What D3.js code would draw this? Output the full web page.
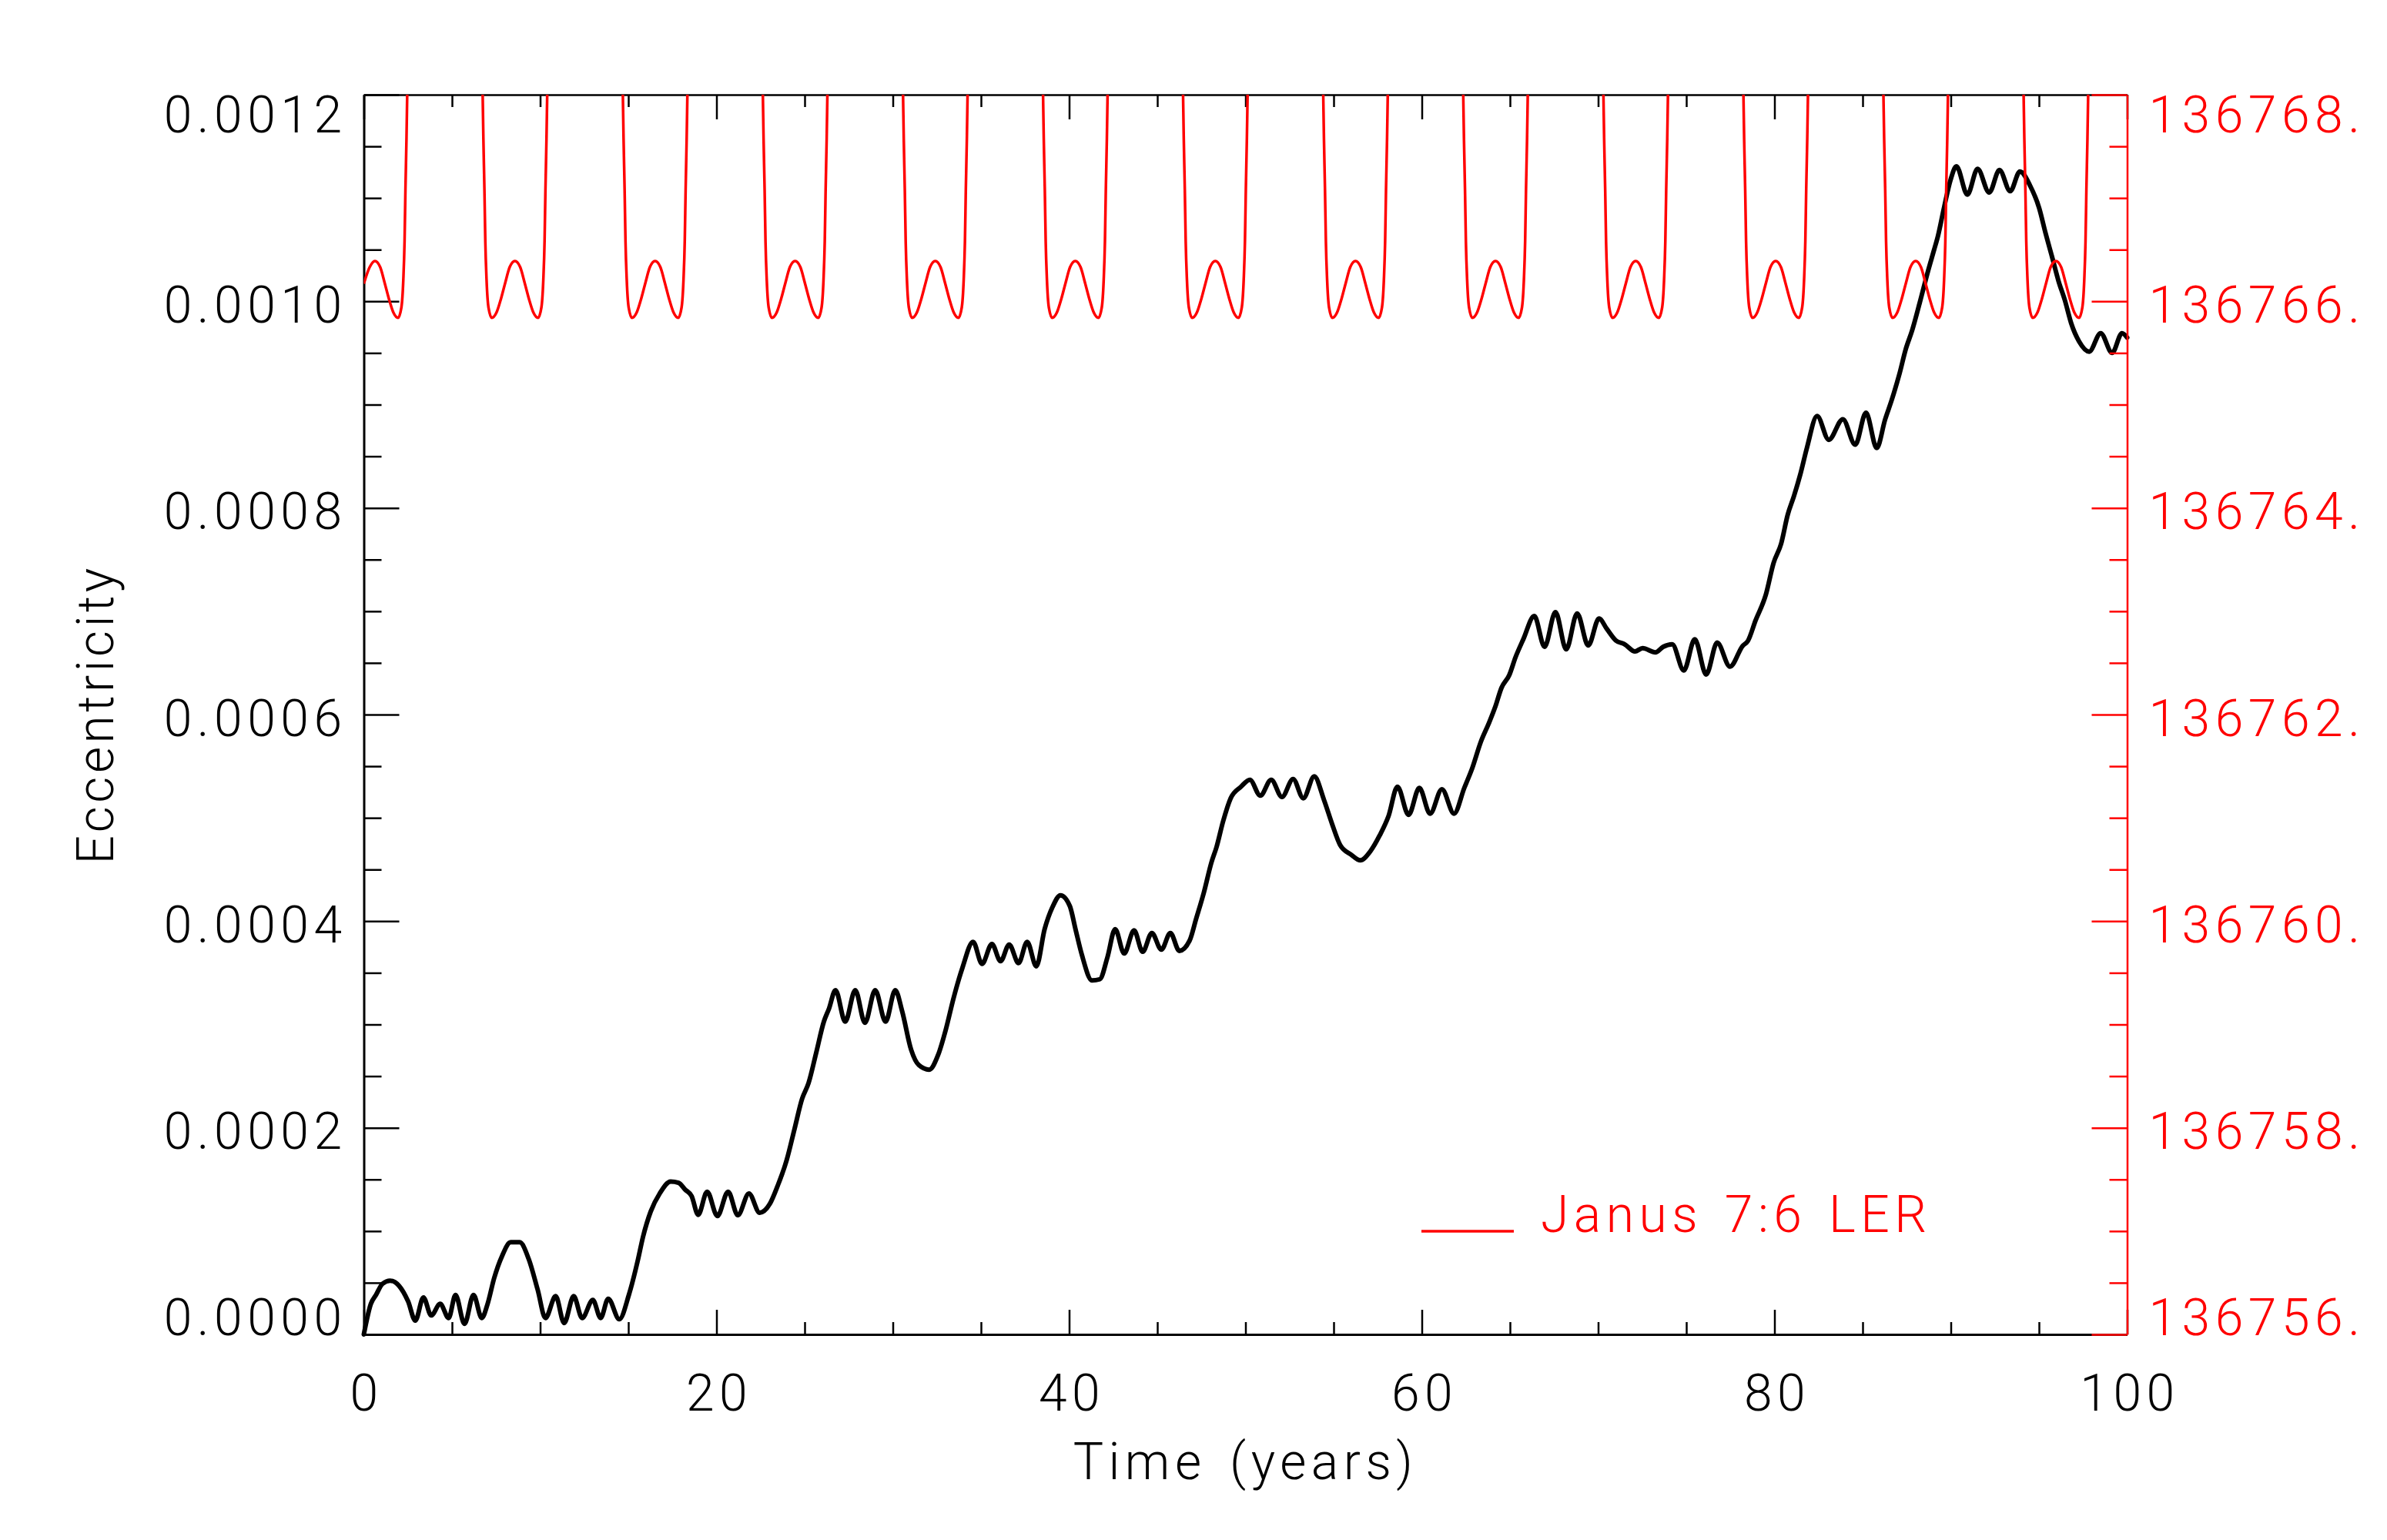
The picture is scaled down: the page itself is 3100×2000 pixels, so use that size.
<!DOCTYPE html>
<html>
<head>
<meta charset="utf-8">
<script src="https://cdn.jsdelivr.net/npm/d3@7"></script>
<style>
  html, body { margin: 0; padding: 0; background: #fff; }
  svg { display: block; }
  text { font-family: Roboto, "DejaVu Sans", sans-serif; font-weight: 300; }
</style>
</head>
<body>
<div id="chart"></div>
<script>
// x axis (time in years)
const xTicks = [0, 20, 40, 60, 80, 100];
const xTickLabels = ['0', '20', '40', '60', '80', '100'];
const xMinorTicks = [5, 10, 15, 25, 30, 35, 45, 50, 55, 65, 70, 75, 85, 90, 95];

// left axis (eccentricity)
const eccTicks = [0, 0.0002, 0.0004, 0.0006, 0.0008, 0.0010, 0.0012];
const eccTickLabels = ['0.0000', '0.0002', '0.0004', '0.0006', '0.0008', '0.0010', '0.0012'];

// right axis (resonance radius, km)
const resTicks = [136756, 136758, 136760, 136762, 136764, 136766, 136768];
const resTickLabels = ['136756.', '136758.', '136760.', '136762.', '136764.', '136766.', '136768.'];

const xTitle = 'Time (years)';
const yTitle = 'Eccentricity';
const legendLabel = 'Janus 7:6 LER';

// black series: eccentricity vs time
const years = [
  0.00, 0.40, 0.69, 1.06, 1.49, 2.00, 2.51, 2.92, 3.38, 3.82,
  4.33, 4.81, 5.20, 5.71, 6.22, 6.69, 7.02, 7.39, 7.83, 8.33,
  8.84, 9.35, 9.86, 10.30, 10.88, 11.36, 11.90, 12.38, 12.99, 13.43,
  13.86, 14.49, 15.03, 15.54, 15.83, 16.27, 16.78, 17.40, 17.85, 18.23,
  18.59, 18.96, 19.47, 20.05, 20.66, 21.21, 21.84, 22.45, 23.03, 23.47,
  23.98, 24.42, 24.86, 25.22, 25.66, 26.09, 26.38, 26.75, 27.30, 27.87,
  28.42, 29.00, 29.59, 30.14, 30.53, 31.04, 31.48, 32.06, 32.57, 33.01,
  33.44, 33.95, 34.55, 35.06, 35.62, 36.11, 36.60, 37.13, 37.62, 38.14,
  38.61, 39.05, 39.51, 40.04, 40.36, 40.72, 41.30, 41.74, 42.17, 42.61,
  43.12, 43.68, 44.17, 44.69, 45.23, 45.74, 46.25, 46.83, 47.20, 47.63,
  48.07, 48.36, 48.73, 49.16, 49.75, 50.25, 50.84, 51.46, 52.07, 52.70,
  53.28, 53.90, 54.45, 54.91, 55.37, 56.00, 56.51, 57.10, 57.61, 58.11,
  58.62, 59.25, 59.86, 60.47, 61.14, 61.83, 62.41, 62.85, 63.35, 63.79,
  64.16, 64.52, 64.96, 65.32, 65.76, 66.38, 66.96, 67.58, 68.19, 68.81,
  69.44, 70.05, 70.49, 71.00, 71.51, 72.09, 72.52, 73.25, 73.69, 74.20,
  74.86, 75.48, 76.13, 76.75, 77.48, 78.20, 78.49, 78.93, 79.51, 79.95,
  80.38, 80.75, 81.11, 81.48, 81.84, 82.42, 83.08, 83.88, 84.58, 85.19,
  85.80, 86.28, 86.65, 87.08, 87.45, 87.81, 88.25, 88.72, 89.05, 89.27,
  89.63, 89.99, 90.32, 90.94, 91.52, 92.18, 92.76, 93.37, 93.92, 94.51,
  95.01, 95.38, 95.74, 96.11, 96.47, 96.83, 97.27, 97.85, 98.50, 99.15,
  99.71, 100.00
];
const eccentricity = [
  0.0000000, 0.0000296, 0.0000382, 0.0000490, 0.0000520, 0.0000470, 0.0000320, 0.0000134, 0.0000358, 0.0000184,
  0.0000296, 0.0000159, 0.0000382, 0.0000102, 0.0000382, 0.0000159, 0.0000296, 0.0000544, 0.0000755, 0.0000892,
  0.0000892, 0.0000730, 0.0000432, 0.0000159, 0.0000370, 0.0000110, 0.0000370, 0.0000159, 0.0000333, 0.0000159,
  0.0000345, 0.0000147, 0.0000382, 0.0000718, 0.0000942, 0.0001190, 0.0001364, 0.0001480, 0.0001468, 0.0001401,
  0.0001339, 0.0001158, 0.0001381, 0.0001146, 0.0001381, 0.0001153, 0.0001364, 0.0001178, 0.0001265, 0.0001439,
  0.0001687, 0.0001985, 0.0002283, 0.0002432, 0.0002730, 0.0003028, 0.0003153, 0.0003332, 0.0003028, 0.0003332,
  0.0003016, 0.0003332, 0.0003028, 0.0003332, 0.0003128, 0.0002755, 0.0002606, 0.0002562, 0.0002706, 0.0002954,
  0.0003252, 0.0003550, 0.0003800, 0.0003587, 0.0003779, 0.0003613, 0.0003774, 0.0003595, 0.0003799, 0.0003563,
  0.0003923, 0.0004134, 0.0004251, 0.0004146, 0.0003923, 0.0003675, 0.0003426, 0.0003438, 0.0003650, 0.0003923,
  0.0003687, 0.0003911, 0.0003704, 0.0003886, 0.0003724, 0.0003886, 0.0003712, 0.0003811, 0.0004022, 0.0004271,
  0.0004569, 0.0004718, 0.0004966, 0.0005190, 0.0005302, 0.0005369, 0.0005215, 0.0005369, 0.0005202, 0.0005376,
  0.0005190, 0.0005401, 0.0005175, 0.0004942, 0.0004737, 0.0004643, 0.0004589, 0.0004681, 0.0004830, 0.0005016,
  0.0005302, 0.0005029, 0.0005290, 0.0005041, 0.0005277, 0.0005041, 0.0005290, 0.0005476, 0.0005737, 0.0005911,
  0.0006072, 0.0006259, 0.0006382, 0.0006557, 0.0006730, 0.0006954, 0.0006656, 0.0006991, 0.0006631, 0.0006979,
  0.0006669, 0.0006930, 0.0006830, 0.0006718, 0.0006680, 0.0006611, 0.0006643, 0.0006602, 0.0006656, 0.0006680,
  0.0006427, 0.0006728, 0.0006388, 0.0006696, 0.0006464, 0.0006666, 0.0006712, 0.0006912, 0.0007160, 0.0007468,
  0.0007655, 0.0007933, 0.0008117, 0.0008334, 0.0008581, 0.0008890, 0.0008659, 0.0008859, 0.0008612, 0.0008921,
  0.0008581, 0.0008859, 0.0009045, 0.0009292, 0.0009539, 0.0009720, 0.0009994, 0.0010300, 0.0010497, 0.0010631,
  0.0010917, 0.0011178, 0.0011307, 0.0011033, 0.0011282, 0.0011053, 0.0011272, 0.0011066, 0.0011257, 0.0011115,
  0.0010904, 0.0010656, 0.0010432, 0.0010196, 0.0010010, 0.0009786, 0.0009613, 0.0009513, 0.0009692, 0.0009501,
  0.0009692, 0.0009650
];

// red series: Janus 7:6 LER radius (km), one row per libration cycle
const lerYears = [
  0.00, 0.33, 0.63, 0.93, 1.18, 1.43, 1.68, 1.94, 2.13, 2.24, 2.31, 2.36, 2.42, 2.46, 2.55,
  6.65, 6.74, 6.78, 6.84, 6.89, 6.96, 7.07, 7.26, 7.52, 7.77, 8.02, 8.27, 8.57, 8.87, 9.12, 9.37, 9.62, 9.88, 10.07, 10.18, 10.25, 10.30, 10.36, 10.40, 10.49,
  14.60, 14.69, 14.73, 14.79, 14.84, 14.91, 15.02, 15.21, 15.47, 15.72, 15.97, 16.22, 16.52, 16.82, 17.07, 17.32, 17.57, 17.83, 18.02, 18.13, 18.20, 18.25, 18.31, 18.35, 18.44,
  22.54, 22.63, 22.67, 22.73, 22.78, 22.85, 22.96, 23.15, 23.41, 23.66, 23.91, 24.16, 24.46, 24.76, 25.01, 25.26, 25.51, 25.77, 25.96, 26.07, 26.14, 26.19, 26.25, 26.29, 26.38,
  30.49, 30.58, 30.62, 30.68, 30.73, 30.80, 30.91, 31.10, 31.36, 31.61, 31.86, 32.11, 32.41, 32.71, 32.96, 33.21, 33.46, 33.72, 33.91, 34.02, 34.09, 34.14, 34.20, 34.24, 34.33,
  38.43, 38.52, 38.56, 38.62, 38.67, 38.74, 38.85, 39.04, 39.30, 39.55, 39.80, 40.05, 40.35, 40.65, 40.90, 41.15, 41.40, 41.66, 41.85, 41.96, 42.03, 42.08, 42.14, 42.18, 42.27,
  46.37, 46.46, 46.50, 46.56, 46.61, 46.68, 46.79, 46.98, 47.24, 47.49, 47.74, 47.99, 48.29, 48.59, 48.84, 49.09, 49.34, 49.60, 49.79, 49.90, 49.97, 50.02, 50.08, 50.12, 50.21,
  54.32, 54.41, 54.45, 54.51, 54.56, 54.63, 54.74, 54.93, 55.19, 55.44, 55.69, 55.94, 56.24, 56.54, 56.79, 57.04, 57.29, 57.55, 57.74, 57.85, 57.92, 57.97, 58.03, 58.07, 58.16,
  62.26, 62.35, 62.39, 62.45, 62.50, 62.57, 62.68, 62.87, 63.13, 63.38, 63.63, 63.88, 64.18, 64.48, 64.73, 64.98, 65.23, 65.49, 65.68, 65.79, 65.86, 65.91, 65.97, 66.01, 66.10,
  70.21, 70.30, 70.34, 70.40, 70.45, 70.52, 70.63, 70.82, 71.08, 71.33, 71.58, 71.83, 72.13, 72.43, 72.68, 72.93, 73.18, 73.44, 73.63, 73.74, 73.81, 73.86, 73.92, 73.96, 74.05,
  78.15, 78.24, 78.28, 78.34, 78.39, 78.46, 78.57, 78.76, 79.02, 79.27, 79.52, 79.77, 80.07, 80.37, 80.62, 80.87, 81.12, 81.38, 81.57, 81.68, 81.75, 81.80, 81.86, 81.90, 81.99,
  86.09, 86.18, 86.22, 86.28, 86.33, 86.40, 86.51, 86.70, 86.96, 87.21, 87.46, 87.71, 88.01, 88.31, 88.56, 88.81, 89.06, 89.32, 89.51, 89.62, 89.69, 89.74, 89.80, 89.84, 89.93,
  94.04, 94.13, 94.17, 94.23, 94.28, 94.35, 94.46, 94.65, 94.91, 95.16, 95.41, 95.66, 95.96, 96.26, 96.51, 96.76, 97.01, 97.27, 97.46, 97.57, 97.64, 97.69, 97.75, 97.79, 97.88
];
const lerRadius = [
  136766.17, 136766.33, 136766.39, 136766.33, 136766.18, 136766.02, 136765.89, 136765.84, 136765.94, 136766.21, 136766.58, 136767.08, 136767.58, 136768.00, 136768.90,
  136768.90, 136768.00, 136767.58, 136767.08, 136766.58, 136766.21, 136765.94, 136765.84, 136765.89, 136766.02, 136766.18, 136766.33, 136766.39, 136766.33, 136766.18, 136766.02, 136765.89, 136765.84, 136765.94, 136766.21, 136766.58, 136767.08, 136767.58, 136768.00, 136768.90,
  136768.90, 136768.00, 136767.58, 136767.08, 136766.58, 136766.21, 136765.94, 136765.84, 136765.89, 136766.02, 136766.18, 136766.33, 136766.39, 136766.33, 136766.18, 136766.02, 136765.89, 136765.84, 136765.94, 136766.21, 136766.58, 136767.08, 136767.58, 136768.00, 136768.90,
  136768.90, 136768.00, 136767.58, 136767.08, 136766.58, 136766.21, 136765.94, 136765.84, 136765.89, 136766.02, 136766.18, 136766.33, 136766.39, 136766.33, 136766.18, 136766.02, 136765.89, 136765.84, 136765.94, 136766.21, 136766.58, 136767.08, 136767.58, 136768.00, 136768.90,
  136768.90, 136768.00, 136767.58, 136767.08, 136766.58, 136766.21, 136765.94, 136765.84, 136765.89, 136766.02, 136766.18, 136766.33, 136766.39, 136766.33, 136766.18, 136766.02, 136765.89, 136765.84, 136765.94, 136766.21, 136766.58, 136767.08, 136767.58, 136768.00, 136768.90,
  136768.90, 136768.00, 136767.58, 136767.08, 136766.58, 136766.21, 136765.94, 136765.84, 136765.89, 136766.02, 136766.18, 136766.33, 136766.39, 136766.33, 136766.18, 136766.02, 136765.89, 136765.84, 136765.94, 136766.21, 136766.58, 136767.08, 136767.58, 136768.00, 136768.90,
  136768.90, 136768.00, 136767.58, 136767.08, 136766.58, 136766.21, 136765.94, 136765.84, 136765.89, 136766.02, 136766.18, 136766.33, 136766.39, 136766.33, 136766.18, 136766.02, 136765.89, 136765.84, 136765.94, 136766.21, 136766.58, 136767.08, 136767.58, 136768.00, 136768.90,
  136768.90, 136768.00, 136767.58, 136767.08, 136766.58, 136766.21, 136765.94, 136765.84, 136765.89, 136766.02, 136766.18, 136766.33, 136766.39, 136766.33, 136766.18, 136766.02, 136765.89, 136765.84, 136765.94, 136766.21, 136766.58, 136767.08, 136767.58, 136768.00, 136768.90,
  136768.90, 136768.00, 136767.58, 136767.08, 136766.58, 136766.21, 136765.94, 136765.84, 136765.89, 136766.02, 136766.18, 136766.33, 136766.39, 136766.33, 136766.18, 136766.02, 136765.89, 136765.84, 136765.94, 136766.21, 136766.58, 136767.08, 136767.58, 136768.00, 136768.90,
  136768.90, 136768.00, 136767.58, 136767.08, 136766.58, 136766.21, 136765.94, 136765.84, 136765.89, 136766.02, 136766.18, 136766.33, 136766.39, 136766.33, 136766.18, 136766.02, 136765.89, 136765.84, 136765.94, 136766.21, 136766.58, 136767.08, 136767.58, 136768.00, 136768.90,
  136768.90, 136768.00, 136767.58, 136767.08, 136766.58, 136766.21, 136765.94, 136765.84, 136765.89, 136766.02, 136766.18, 136766.33, 136766.39, 136766.33, 136766.18, 136766.02, 136765.89, 136765.84, 136765.94, 136766.21, 136766.58, 136767.08, 136767.58, 136768.00, 136768.90,
  136768.90, 136768.00, 136767.58, 136767.08, 136766.58, 136766.21, 136765.94, 136765.84, 136765.89, 136766.02, 136766.18, 136766.33, 136766.39, 136766.33, 136766.18, 136766.02, 136765.89, 136765.84, 136765.94, 136766.21, 136766.58, 136767.08, 136767.58, 136768.00, 136768.90,
  136768.90, 136768.00, 136767.58, 136767.08, 136766.58, 136766.21, 136765.94, 136765.84, 136765.89, 136766.02, 136766.18, 136766.33, 136766.39, 136766.33, 136766.18, 136766.02, 136765.89, 136765.84, 136765.94, 136766.21, 136766.58, 136767.08, 136767.58, 136768.00, 136768.90
];

const width = 3100;
const height = 2000;
const plot = { left: 472.5, right: 2762.5, top: 123, bottom: 1733 };
const fontSize = 66;
const red = '#ff0000';

const svg = d3.select('#chart')
    .append('svg')
    .attr('width', width)
    .attr('height', height)
    .attr('viewBox', [0, 0, width, height]);

svg.append('rect').attr('width', width).attr('height', height).attr('fill', '#fff');

const x = d3.scaleLinear().domain([0, 100]).range([plot.left, plot.right]);
const y = d3.scaleLinear().domain([0, 0.0012]).range([plot.bottom, plot.top]);
const yRes = d3.scaleLinear().domain([136756, 136768]).range([plot.bottom, plot.top]);

svg.append('defs').append('clipPath').attr('id', 'plot-clip')
    .append('rect')
    .attr('x', plot.left).attr('y', plot.top)
    .attr('width', plot.right - plot.left)
    .attr('height', plot.bottom - plot.top);

// shared axis styling
function styleAxis(g, color) {
    g.attr('color', color)
        .attr('font-size', fontSize)
        .attr('font-family', 'Roboto, "DejaVu Sans", sans-serif');
    g.selectAll('line').attr('stroke-width', 2.5);
    g.select('.domain').attr('stroke-width', 3);
    g.selectAll('text').attr('letter-spacing', 6.5);
}

function minorAxis(axis, pos, color) {
    svg.append('g')
        .attr('transform', pos)
        .call(axis.tickFormat('').tickSizeOuter(0))
        .call(g => g.select('.domain').remove())
        .call(g => g.attr('color', color).selectAll('line').attr('stroke-width', 2.5));
}

// y labels: end labels sit inside the axis span, others centred on tick
function shiftYLabels(g) {
    const n = g.selectAll('.tick').size();
    g.selectAll('.tick text').attr('dy', (d, i) => i === 0 ? 0 : (i === n - 1 ? 48 : 27));
}

// bottom axis
svg.append('g')
    .attr('transform', `translate(0,${plot.bottom})`)
    .call(d3.axisBottom(x).tickValues(xTicks).tickFormat((d, i) => xTickLabels[i])
        .tickSize(-32).tickSizeOuter(0).tickPadding(52))
    .call(g => styleAxis(g, '#000'))
    .call(g => g.selectAll('text').attr('dx', 3));
minorAxis(d3.axisBottom(x).tickValues(xMinorTicks).tickSize(-16), `translate(0,${plot.bottom})`, '#000');

// top axis (ticks only)
svg.append('g')
    .attr('transform', `translate(0,${plot.top})`)
    .call(d3.axisTop(x).tickValues(xTicks).tickFormat('').tickSize(-32).tickSizeOuter(0))
    .call(g => styleAxis(g, '#000'))
    .call(g => g.select('.domain').attr('stroke-width', 2.5));
minorAxis(d3.axisTop(x).tickValues(xMinorTicks).tickSize(-16), `translate(0,${plot.top})`, '#000');

// left axis
svg.append('g')
    .attr('transform', `translate(${plot.left},0)`)
    .call(d3.axisLeft(y).tickValues(eccTicks).tickFormat((d, i) => eccTickLabels[i])
        .tickSize(-46).tickSizeOuter(0).tickPadding(22))
    .call(g => styleAxis(g, '#000'))
    .call(shiftYLabels);
minorAxis(d3.axisLeft(y).tickValues(d3.range(0, 25).filter(i => i % 4 !== 0).map(i => i * 0.00005)).tickSize(-23),
    `translate(${plot.left},0)`, '#000');

// axis titles
svg.append('text')
    .attr('x', (plot.left + plot.right) / 2)
    .attr('y', 1921)
    .attr('text-anchor', 'middle')
    .attr('font-size', fontSize)
    .attr('letter-spacing', 6.5)
    .attr('word-spacing', 8)
    .attr('fill', '#000')
    .text(xTitle);

svg.append('text')
    .attr('transform', `translate(147,${(plot.top + plot.bottom) / 2}) rotate(-90)`)
    .attr('text-anchor', 'middle')
    .attr('font-size', fontSize)
    .attr('letter-spacing', 4.5)
    .attr('fill', '#000')
    .text(yTitle);

// eccentricity line
const eccLine = d3.line()
    .x((d, i) => x(years[i]))
    .y(d => y(d))
    .curve(d3.curveMonotoneX);

svg.append('path')
    .datum(eccentricity)
    .attr('d', eccLine)
    .attr('fill', 'none')
    .attr('stroke', '#000')
    .attr('stroke-width', 6)
    .attr('stroke-linejoin', 'round')
    .attr('stroke-linecap', 'round');

// resonance line (clipped at the top of the box)
const lerLine = d3.line()
    .x((d, i) => x(lerYears[i]))
    .y(d => yRes(d))
    .curve(d3.curveMonotoneX);

svg.append('path')
    .datum(lerRadius)
    .attr('clip-path', 'url(#plot-clip)')
    .attr('d', lerLine)
    .attr('fill', 'none')
    .attr('stroke', red)
    .attr('stroke-width', 3.5)
    .attr('stroke-linejoin', 'round');

// right axis (red)
svg.append('g')
    .attr('transform', `translate(${plot.right},0)`)
    .call(d3.axisRight(yRes).tickValues(resTicks).tickFormat((d, i) => resTickLabels[i])
        .tickSize(-46).tickSizeOuter(0).tickPadding(28))
    .call(g => styleAxis(g, red))
    .call(g => g.selectAll('line').attr('stroke-width', 2.5))
    .call(g => g.select('.domain').attr('stroke-width', 2.5))
    .call(shiftYLabels);
minorAxis(d3.axisRight(yRes).tickValues(d3.range(0, 25).filter(i => i % 4 !== 0).map(i => 136756 + i * 0.5)).tickSize(-23),
    `translate(${plot.right},0)`, red);

// legend
const legend = svg.append('g').attr('transform', 'translate(1846,1599)');
legend.append('line')
    .attr('x1', 0).attr('x2', 120)
    .attr('y1', 0).attr('y2', 0)
    .attr('stroke', red)
    .attr('stroke-width', 3.5);
legend.append('text')
    .attr('x', 155)
    .attr('y', 1)
    .attr('font-size', fontSize)
    .attr('letter-spacing', 6.5)
    .attr('word-spacing', 6)
    .attr('fill', red)
    .text(legendLabel);
</script>
</body>
</html>
